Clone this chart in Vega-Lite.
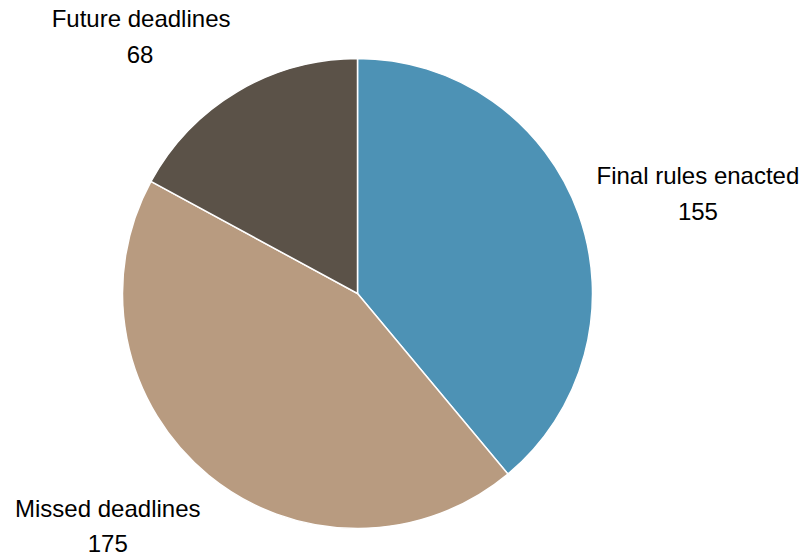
{
  "$schema": "https://vega.github.io/schema/vega-lite/v6.json",
  "width": 715,
  "height": 527,
  "autosize": {"type": "none"},
  "padding": {"left": 0, "top": 30, "right": 86, "bottom": 0},
  "background": "white",
  "config": {"view": {"stroke": null}, "font": "Liberation Sans"},
  "data": {
    "values": [
      {"category": "Final rules enacted", "count": 155, "rank": 1},
      {"category": "Missed deadlines", "count": 175, "rank": 2},
      {"category": "Future deadlines", "count": 68, "rank": 3}
    ]
  },
  "encoding": {
    "theta": {"field": "count", "type": "quantitative", "stack": true},
    "order": {"field": "rank", "type": "quantitative", "sort": "ascending"}
  },
  "layer": [
    {
      "mark": {"type": "arc", "outerRadius": 235, "stroke": "white", "strokeWidth": 1.5},
      "encoding": {
        "color": {
          "field": "category",
          "type": "nominal",
          "scale": {
            "domain": ["Final rules enacted", "Missed deadlines", "Future deadlines"],
            "range": ["#4d92b5", "#b89b80", "#5b5248"]
          },
          "legend": null
        }
      }
    },
    {
      "mark": {"type": "text", "radius": 345, "fontSize": 24, "dx": 16, "dy": 1, "color": "black", "letterSpacing": -0.2},
      "encoding": {"text": {"condition": {"test": "datum.category === 'Final rules enacted'", "field": "category", "type": "nominal"}, "value": ""}}
    },
    {
      "mark": {"type": "text", "radius": 345, "fontSize": 24, "dx": 16, "dy": 37, "color": "black", "letterSpacing": -0.2},
      "encoding": {"text": {"condition": {"test": "datum.category === 'Final rules enacted'", "field": "count", "type": "quantitative"}, "value": ""}}
    },
    {
      "mark": {"type": "text", "radius": 345, "fontSize": 24, "dx": -31, "dy": -50, "color": "black", "letterSpacing": -0.2},
      "encoding": {"text": {"condition": {"test": "datum.category === 'Missed deadlines'", "field": "category", "type": "nominal"}, "value": ""}}
    },
    {
      "mark": {"type": "text", "radius": 345, "fontSize": 24, "dx": -31, "dy": -15, "color": "black", "letterSpacing": -0.2},
      "encoding": {"text": {"condition": {"test": "datum.category === 'Missed deadlines'", "field": "count", "type": "quantitative"}, "value": ""}}
    },
    {
      "mark": {"type": "text", "radius": 345, "fontSize": 24, "dx": -40, "dy": 23, "color": "black", "letterSpacing": -0.2},
      "encoding": {"text": {"condition": {"test": "datum.category === 'Future deadlines'", "field": "category", "type": "nominal"}, "value": ""}}
    },
    {
      "mark": {"type": "text", "radius": 345, "fontSize": 24, "dx": -41, "dy": 59, "color": "black", "letterSpacing": -0.2},
      "encoding": {"text": {"condition": {"test": "datum.category === 'Future deadlines'", "field": "count", "type": "quantitative"}, "value": ""}}
    }
  ]
}
